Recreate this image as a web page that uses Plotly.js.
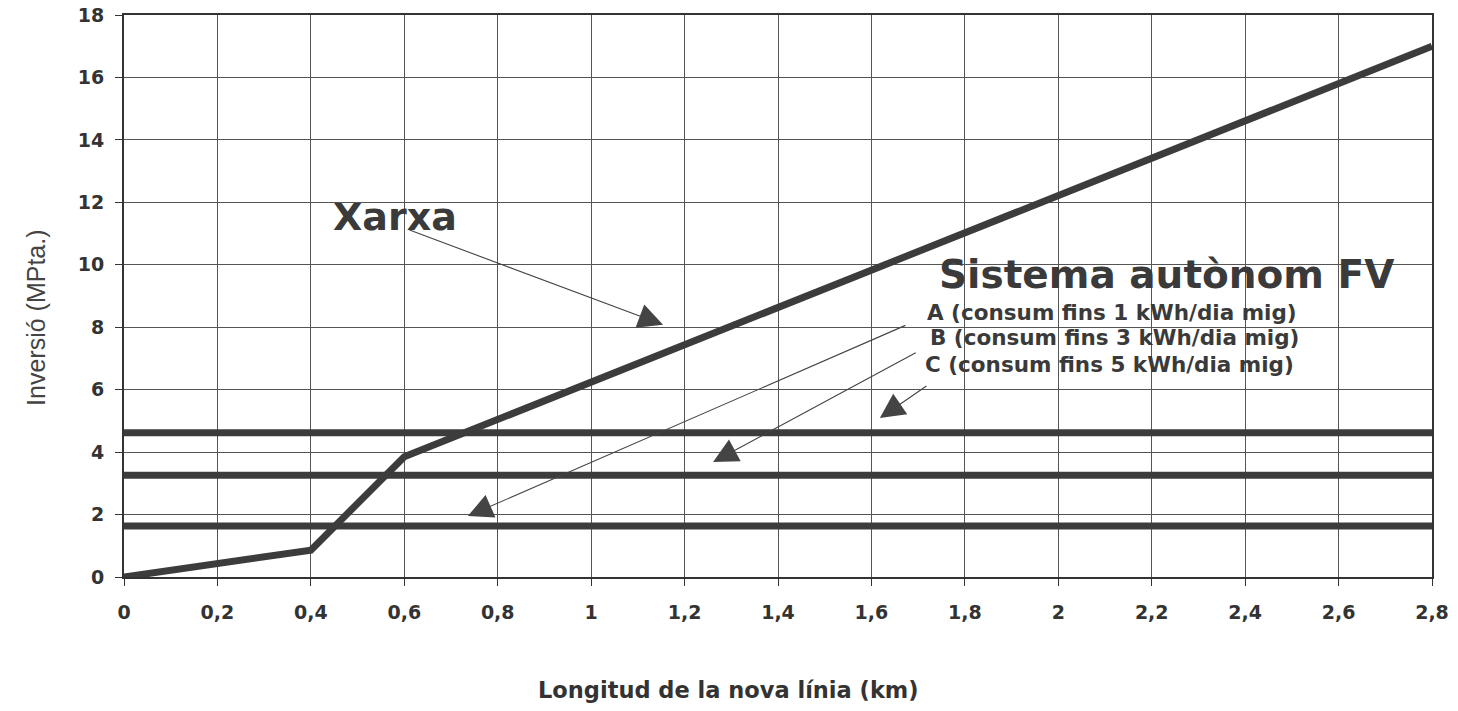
<!DOCTYPE html>
<html>
<head>
<meta charset="utf-8">
<script src="https://cdn.plot.ly/plotly-3.0.1.min.js"></script>
<style>html,body{margin:0;padding:0;background:#fff;}#chart{width:1458px;height:711px;}</style>
</head>
<body>
<div id="chart"></div>
<script>
// Data
const xarxaX = [0, 0.4, 0.6, 2.8];
const xarxaY = [0, 0.86, 3.85, 17.0];
const sistemaX = [0, 2.8];
const sistemaA = 1.63;   // consum fins 1 kWh/dia mig
const sistemaB = 3.26;   // consum fins 3 kWh/dia mig
const sistemaC = 4.62;   // consum fins 5 kWh/dia mig
const xTicks = [0,0.2,0.4,0.6,0.8,1,1.2,1.4,1.6,1.8,2,2.2,2.4,2.6,2.8];
const xTickText = ["0","0,2","0,4","0,6","0,8","1","1,2","1,4","1,6","1,8","2","2,2","2,4","2,6","2,8"];
const yTicks = [0,2,4,6,8,10,12,14,16,18];
const xTitle = "Longitud de la nova línia (km)";
const yTitle = "Inversió (MPta.)";
const labelTexts = {
  xarxa: "Xarxa",
  sistema: "Sistema autònom FV",
  A: "A (consum fins 1 kWh/dia mig)",
  B: "B (consum fins 3 kWh/dia mig)",
  C: "C (consum fins 5 kWh/dia mig)"
};
// arrow [tailX, tailY, tipX, tipY]
const arrowXarxa = [0.608, 11.13, 1.154, 8.08];
const arrowA = [1.676, 8.08, 0.736, 1.95];
const arrowB = [1.698, 7.21, 1.261, 3.68];
const arrowC = [1.721, 6.15, 1.618, 5.09];

const lineColor = '#3c3c3c';
const fnt = 'Liberation Sans, Arial, sans-serif';
const fntW = 'DejaVu Sans, Verdana, sans-serif';

const traces = [
  {x: xarxaX, y: xarxaY, mode: 'lines', line: {color: lineColor, width: 7}, name: 'Xarxa'},
  {x: sistemaX, y: [sistemaA, sistemaA], mode: 'lines', line: {color: lineColor, width: 7}, name: 'A'},
  {x: sistemaX, y: [sistemaB, sistemaB], mode: 'lines', line: {color: lineColor, width: 7}, name: 'B'},
  {x: sistemaX, y: [sistemaC, sistemaC], mode: 'lines', line: {color: lineColor, width: 7}, name: 'C'}
];

function arrow(a) {
  return {x: a[2], y: a[3], ax: a[0], ay: a[1], axref: 'x', ayref: 'y', xref: 'x', yref: 'y',
    text: '', showarrow: true, arrowhead: 2, arrowsize: 4.5, arrowwidth: 1.1, arrowcolor: '#444'};
}

const annotations = [
  {x: 0.58, y: 11.52, xref: 'x', yref: 'y', text: '<b>' + labelTexts.xarxa + '</b>', showarrow: false,
   font: {family: fntW, size: 38, color: '#3a3a3a'}, xanchor: 'center', yanchor: 'middle'},
  {x: 1.741, y: 9.69, xref: 'x', yref: 'y', text: '<b>' + labelTexts.sistema + '</b>', showarrow: false,
   font: {family: fntW, size: 39, color: '#3a3a3a'}, xanchor: 'left', yanchor: 'middle'},
  {x: 1.715, y: 8.47, xref: 'x', yref: 'y', text: '<b>' + labelTexts.A + '</b>', showarrow: false,
   font: {family: fntW, size: 21.5, color: '#3a3a3a'}, xanchor: 'left', yanchor: 'middle'},
  {x: 1.721, y: 7.67, xref: 'x', yref: 'y', text: '<b>' + labelTexts.B + '</b>', showarrow: false,
   font: {family: fntW, size: 21.5, color: '#3a3a3a'}, xanchor: 'left', yanchor: 'middle'},
  {x: 1.711, y: 6.80, xref: 'x', yref: 'y', text: '<b>' + labelTexts.C + '</b>', showarrow: false,
   font: {family: fntW, size: 21.5, color: '#3a3a3a'}, xanchor: 'left', yanchor: 'middle'},
  {x: 0.4618, y: -0.201, xref: 'paper', yref: 'paper', text: '<b>' + xTitle + '</b>', showarrow: false,
   font: {family: fntW, size: 22.5, color: '#333'}, xanchor: 'center', yanchor: 'middle'},
  {x: -0.0673, y: 0.461, xref: 'paper', yref: 'paper', text: yTitle, showarrow: false, textangle: -90,
   font: {family: fnt, size: 25, color: '#444'}, xanchor: 'center', yanchor: 'middle'},
  arrow(arrowXarxa), arrow(arrowA), arrow(arrowB), arrow(arrowC)
];

const layout = {
  width: 1458, height: 711,
  margin: {l: 124, r: 26, t: 15, b: 134},
  paper_bgcolor: '#ffffff', plot_bgcolor: '#ffffff',
  showlegend: false,
  xaxis: {
    range: [0, 2.8], tickvals: xTicks, ticktext: xTickText,
    showgrid: true, gridcolor: '#555', gridwidth: 1,
    showline: true, linecolor: '#333', linewidth: 2, mirror: true,
    ticks: 'outside', ticklen: 7, tickcolor: '#333',
    ticklabelstandoff: 10,
    tickfont: {family: fntW, size: 19, color: '#333', weight: 'bold'},
    zeroline: false
  },
  yaxis: {
    range: [0, 18], tickvals: yTicks,
    showgrid: true, gridcolor: '#555', gridwidth: 1,
    showline: true, linecolor: '#333', linewidth: 2, mirror: true,
    ticks: 'outside', ticklen: 7, tickcolor: '#333',
    ticklabelstandoff: 7,
    tickfont: {family: fntW, size: 19, color: '#333', weight: 'bold'},
    zeroline: false
  },
  annotations: annotations
};

Plotly.newPlot('chart', traces, layout, {displayModeBar: false, staticPlot: true});
</script>
</body>
</html>
